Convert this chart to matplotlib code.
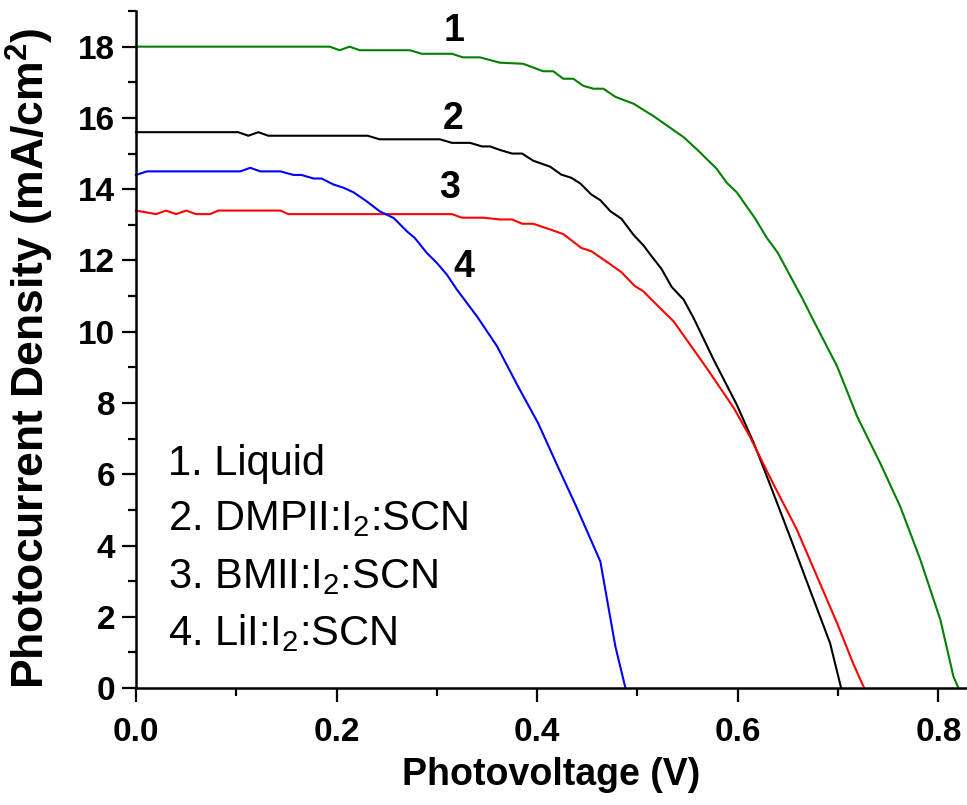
import numpy as np
import matplotlib
matplotlib.use("Agg")
import matplotlib.pyplot as plt
from matplotlib.ticker import MultipleLocator

plt.rcParams["font.family"] = ["Liberation Sans", "DejaVu Sans"]
plt.rcParams["mathtext.fontset"] = "custom"
plt.rcParams["mathtext.rm"] = "Liberation Sans"
plt.rcParams["mathtext.bf"] = "Liberation Sans:bold"

# 1. Liquid (green)
v_liquid = [0, 0.193, 0.203, 0.213, 0.223, 0.273, 0.285, 0.315, 0.326, 0.343, 0.363,
            0.386, 0.406, 0.416, 0.426, 0.436, 0.446, 0.456, 0.466, 0.478, 0.496, 0.516,
            0.546, 0.561, 0.579, 0.589, 0.599, 0.617, 0.629, 0.640, 0.665, 0.675, 0.699,
            0.719, 0.742, 0.762, 0.782, 0.802, 0.815, 0.820]
j_liquid = [18.0, 18.0, 17.9, 18.0, 17.9, 17.9, 17.8, 17.8, 17.7, 17.7, 17.55,
            17.52, 17.31, 17.31, 17.1, 17.1, 16.9, 16.82, 16.82, 16.59, 16.4, 16.05,
            15.46, 15.07, 14.57, 14.18, 13.91, 13.19, 12.63, 12.21, 10.9, 10.34, 9.03,
            7.62, 6.31, 5.09, 3.6, 1.91, 0.32, 0.0]

# 2. DMPII:I2:SCN (black)
v_dmpii = [0, 0.102, 0.112, 0.122, 0.132, 0.231, 0.243, 0.303, 0.315, 0.333, 0.345,
           0.353, 0.363, 0.375, 0.385, 0.396, 0.413, 0.424, 0.434, 0.443, 0.454, 0.463,
           0.473, 0.484, 0.496, 0.506, 0.514, 0.524, 0.534, 0.546, 0.556, 0.576, 0.599,
           0.616, 0.629, 0.652, 0.672, 0.692, 0.703]
j_dmpii = [15.6, 15.6, 15.5, 15.6, 15.5, 15.5, 15.4, 15.4, 15.3, 15.3, 15.2,
           15.2, 15.1, 15.0, 15.0, 14.8, 14.63, 14.41, 14.32, 14.16, 13.85, 13.69,
           13.38, 13.17, 12.72, 12.42, 12.12, 11.76, 11.26, 10.9, 10.38, 9.21, 7.95,
           6.87, 5.94, 4.25, 2.75, 1.26, 0.0]

# 3. BMII:I2:SCN (red)
v_bmii = [0, 0.02, 0.03, 0.04, 0.05, 0.06, 0.074, 0.082, 0.144, 0.152, 0.315, 0.325,
          0.346, 0.363, 0.375, 0.385, 0.396, 0.413, 0.426, 0.444, 0.454, 0.471, 0.484,
          0.497, 0.506, 0.514, 0.536, 0.569, 0.596, 0.612, 0.635, 0.659, 0.679, 0.699,
          0.715, 0.726]
j_bmii = [13.4, 13.3, 13.4, 13.3, 13.4, 13.3, 13.3, 13.4, 13.4, 13.3, 13.3, 13.2,
          13.2, 13.15, 13.15, 13.03, 13.03, 12.87, 12.74, 12.35, 12.26, 11.93, 11.67,
          11.29, 11.13, 10.9, 10.29, 8.98, 7.86, 7.06, 5.75, 4.44, 3.13, 1.82,
          0.69, 0.0]

# 4. LiI:I2:SCN (blue)
v_lii = [0, 0.011, 0.104, 0.114, 0.124, 0.144, 0.157, 0.165, 0.177, 0.185, 0.197,
         0.207, 0.217, 0.23, 0.243, 0.257, 0.27, 0.278, 0.29, 0.3, 0.31, 0.32, 0.34,
         0.36, 0.381, 0.401, 0.419, 0.439, 0.463, 0.468, 0.478, 0.488]
j_lii = [14.4, 14.5, 14.5, 14.6, 14.5, 14.5, 14.4, 14.4, 14.3, 14.3, 14.13,
         14.04, 13.91, 13.66, 13.38, 13.19, 12.82, 12.63, 12.21, 11.93, 11.6, 11.18, 10.43,
         9.59, 8.46, 7.43, 6.31, 5.09, 3.55, 2.75, 1.16, 0.0]

curve_labels = ["1", "2", "3", "4"]
legend_lines = ["1. Liquid",
                r"2. DMPII:$\mathregular{I_2}$:SCN",
                r"3. BMII:$\mathregular{I_2}$:SCN",
                r"4. LiI:$\mathregular{I_2}$:SCN"]

fig = plt.figure(figsize=(9.67, 8.05), dpi=100)
ax = fig.add_axes([0.1406, 0.1453, 0.8594, 0.841])

ax.plot(v_liquid, j_liquid, color="#008000", lw=1.5, clip_on=False)
ax.plot(v_dmpii, j_dmpii, color="black", lw=1.5, clip_on=False)
ax.plot(v_bmii, j_bmii, color="#ff0000", lw=1.5, clip_on=False)
ax.plot(v_lii, j_lii, color="#0000ff", lw=1.5, clip_on=False)

for s in ["top", "right"]:
    ax.spines[s].set_visible(False)
for s in ["left", "bottom"]:
    ax.spines[s].set_linewidth(1.8)

ax.xaxis.set_major_locator(MultipleLocator(0.2))
ax.xaxis.set_minor_locator(MultipleLocator(0.1))
ax.yaxis.set_major_locator(MultipleLocator(2))
ax.yaxis.set_minor_locator(MultipleLocator(1))
ax.tick_params(which="major", direction="out", length=10, width=1.6, labelsize=24)
ax.tick_params(which="minor", direction="out", length=6, width=1.6)
ax.tick_params(axis="x", which="major", pad=11)
ax.tick_params(axis="y", which="major", pad=5)
ax.set_xticks([0.0, 0.2, 0.4, 0.6, 0.8])
ax.set_xticklabels(["0.0", "0.2", "0.4", "0.6", "0.8"], fontweight="bold")
ax.set_yticks(range(0, 19, 2))
ax.set_yticklabels([str(t) for t in range(0, 19, 2)], fontweight="bold")
ax.set_xlim(0, 0.8285)
ax.set_ylim(0, 19.0)

ax.set_xlabel("Photovoltage (V)", fontsize=27, fontweight="bold", labelpad=6)
ax.set_ylabel(r"Photocurrent Density (mA/cm$\mathbf{^2}$)", fontsize=32,
              fontweight="bold")
ax.yaxis.set_label_coords(-0.096, 0.487)

# curve numbers
ax.text(0.317, 18.43, curve_labels[0], fontsize=27, fontweight="bold", ha="center", va="center")
ax.text(0.316, 15.96, curve_labels[1], fontsize=27, fontweight="bold", ha="center", va="center")
ax.text(0.313, 14.04, curve_labels[2], fontsize=27, fontweight="bold", ha="center", va="center")
ax.text(0.327, 11.83, curve_labels[3], fontsize=27, fontweight="bold", ha="center", va="center")

# legend text block
for line, yb in zip(legend_lines, [5.98, 4.44, 2.81, 1.21]):
    ax.text(0.032, yb, line, fontsize=30, ha="left", va="baseline")

fig.savefig("out.png", dpi=100)
